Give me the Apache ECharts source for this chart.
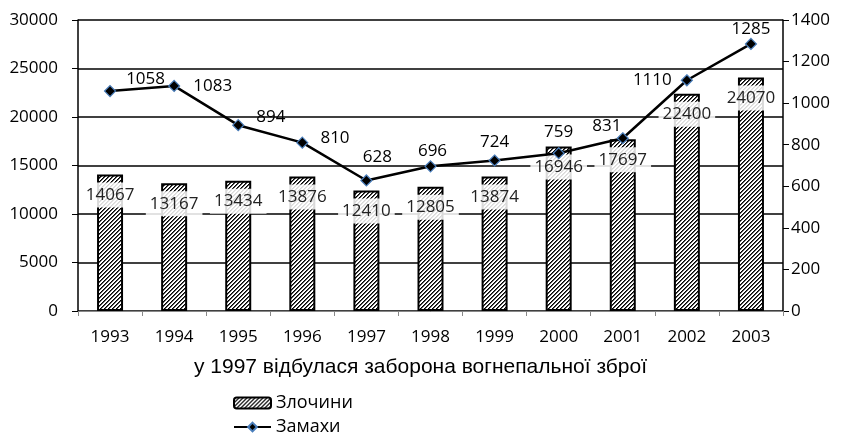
<!DOCTYPE html>
<html>
<head>
<meta charset="utf-8">
<script src="https://cdn.jsdelivr.net/npm/echarts@6/dist/echarts.min.js"></script>
<style>
html,body{margin:0;padding:0;background:#fff;}
#chart{width:843px;height:434px;}
</style>
</head>
<body>
<div id="chart"></div>
<script>
const years = ['1993','1994','1995','1996','1997','1998','1999','2000','2001','2002','2003'];
const crimes = [14067, 13167, 13434, 13876, 12410, 12805, 13874, 16946, 17697, 22400, 24070];
const attempts = [1058, 1083, 894, 810, 628, 696, 724, 759, 831, 1110, 1285];
const crimesName = 'Злочини';
const attemptsName = 'Замахи';
const xTitle = 'у 1997 відбулася заборона вогнепальної зброї';

// hatch pattern
const pc = document.createElement('canvas');
pc.width = 4; pc.height = 4;
const pctx = pc.getContext('2d');
pctx.fillStyle = '#ffffff';
pctx.fillRect(0, 0, 4, 4);
for (let x = 0; x < 4; x++) {
  for (let y = 0; y < 4; y++) {
    const k = (x + y) % 4;
    if (k === 0) { pctx.fillStyle = '#000000'; pctx.fillRect(x, y, 1, 1); }
    else if (k === 1) { pctx.fillStyle = '#555555'; pctx.fillRect(x, y, 1, 1); }
  }
}
const hatch = { image: pc, repeat: 'repeat' };

// label placement for the line points (style only)
const lineLabelStyle = [
  { position: 'right', distance: 10, offset: [0, -12] },
  { position: 'right', distance: 10, offset: [3, 0] },
  { position: 'right', distance: 10, offset: [2, -8] },
  { position: 'right', distance: 10, offset: [2, -4] },
  { position: 'top', distance: 5, offset: [11, -4] },
  { position: 'top', distance: 5, offset: [2, 4] },
  { position: 'top', distance: 5, offset: [0, 1] },
  { position: 'top', distance: 5, offset: [0, -1] },
  { position: 'top', distance: 5, offset: [-16, 7] },
  { position: 'left', distance: 9, offset: [0, 0] },
  { position: 'top', distance: 5, offset: [0, 5] }
];

const font = 'Open Sans';
const legendText = { fontFamily: font, fontSize: 18, color: '#000' };
const chart = echarts.init(document.getElementById('chart'), null, { renderer: 'canvas' });
chart.setOption({
  animation: false,
  backgroundColor: '#ffffff',
  grid: { left: 78, right: 60, top: 20, bottom: 123, containLabel: false },
  legend: [
    { left: 228, top: 389, itemWidth: 37, itemHeight: 11, itemGap: 3, textStyle: legendText, data: [crimesName] },
    { left: 228, top: 413, itemWidth: 37, itemHeight: 11, itemGap: 3, textStyle: legendText, data: [attemptsName] }
  ],
  xAxis: {
    type: 'category',
    data: years,
    name: xTitle,
    nameLocation: 'middle',
    nameGap: 46,
    nameTextStyle: { fontFamily: 'Liberation Sans', fontSize: 21, color: '#000', padding: [0, 20, 0, 0] },
    axisLine: { show: true, lineStyle: { color: '#888', width: 1 } },
    axisTick: { show: true, length: 5, lineStyle: { color: '#888' } },
    axisLabel: { fontFamily: font, fontSize: 17, color: '#000', margin: 18 },
    splitLine: { show: false }
  },
  yAxis: [
    {
      type: 'value', min: 0, max: 30000, interval: 5000,
      axisLine: { show: true, lineStyle: { color: '#000', width: 1.5 } },
      axisTick: { show: true, length: 6, lineStyle: { color: '#000' } },
      axisLabel: { fontFamily: font, fontSize: 17, color: '#000', margin: 20, formatter: v => String(v) },
      splitLine: { show: true, lineStyle: { color: '#000', width: 1.5 } }
    },
    {
      type: 'value', min: 0, max: 1400, interval: 200,
      position: 'right',
      axisLine: { show: true, lineStyle: { color: '#000', width: 1.5 } },
      axisTick: { show: true, length: 6, lineStyle: { color: '#000' } },
      axisLabel: { fontFamily: font, fontSize: 17, color: '#000', margin: 8, formatter: v => String(v) },
      splitLine: { show: false }
    }
  ],
  series: [
    {
      name: crimesName,
      type: 'bar',
      yAxisIndex: 0,
      barWidth: 26,
      data: crimes,
      itemStyle: { color: hatch, borderColor: '#000', borderWidth: 2 },
      label: {
        show: true,
        position: 'insideTop',
        distance: 8,
        fontFamily: font,
        fontSize: 17,
        color: '#222',
        backgroundColor: 'rgba(255,255,255,0.85)',
        padding: [4, 4]
      },
      z: 2
    },
    {
      name: attemptsName,
      type: 'line',
      yAxisIndex: 1,
      data: attempts.map((v, i) => ({ value: v, label: lineLabelStyle[i] })),
      symbol: 'diamond',
      symbolSize: 11,
      lineStyle: { color: '#000', width: 2.5 },
      itemStyle: { color: '#000', borderColor: '#4a7ebb', borderWidth: 1.2 },
      label: { show: true, fontFamily: font, fontSize: 17, color: '#000' },
      z: 3
    }
  ]
});
</script>
</body>
</html>
